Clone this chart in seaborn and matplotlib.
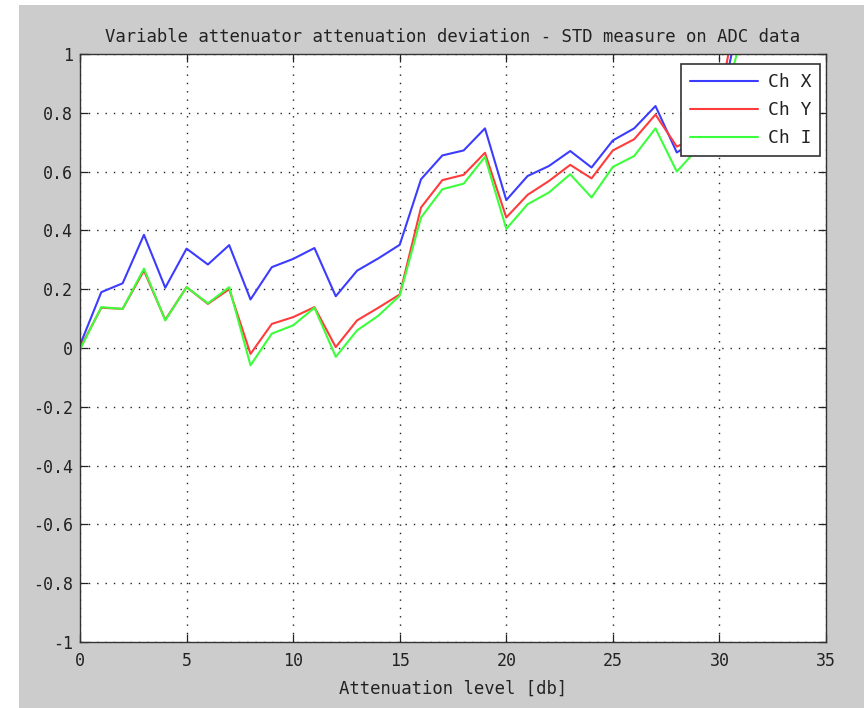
import matplotlib
import matplotlib.pyplot as plt
import pandas as pd
import seaborn as sns
from matplotlib.patches import Rectangle

matplotlib.use("Agg")

# attenuation steps and STD deviation per channel
atten_db = list(range(0, 32))
ch_x = [0.01, 0.19, 0.22, 0.385, 0.205, 0.338, 0.284, 0.35, 0.165, 0.275,
        0.303, 0.34, 0.176, 0.263, 0.305, 0.351, 0.574, 0.655, 0.672, 0.747,
        0.503, 0.585, 0.619, 0.670, 0.614, 0.706, 0.747, 0.823, 0.665, 0.71,
        0.80, 1.15]
ch_y = [0.0, 0.137, 0.133, 0.263, 0.096, 0.207, 0.15, 0.2, -0.02, 0.082,
        0.105, 0.139, 0.003, 0.094, 0.137, 0.182, 0.478, 0.571, 0.589, 0.664,
        0.444, 0.521, 0.568, 0.623, 0.577, 0.672, 0.71, 0.794, 0.685, 0.72,
        0.84, 1.22]
ch_i = [-0.005, 0.139, 0.133, 0.27, 0.094, 0.207, 0.152, 0.207, -0.059, 0.049,
        0.077, 0.137, -0.03, 0.06, 0.11, 0.178, 0.444, 0.54, 0.559, 0.65,
        0.405, 0.489, 0.529, 0.591, 0.512, 0.616, 0.653, 0.747, 0.60, 0.68,
        0.78, 1.05]

x_ticks = [0, 5, 10, 15, 20, 25, 30, 35]
y_ticks = [-1, -0.8, -0.6, -0.4, -0.2, 0, 0.2, 0.4, 0.6, 0.8, 1]
y_tick_labels = ["-1", "-0.8", "-0.6", "-0.4", "-0.2", "0",
                 "0.2", "0.4", "0.6", "0.8", "1"]

df = pd.DataFrame({"atten": atten_db, "Ch X": ch_x, "Ch Y": ch_y, "Ch I": ch_i})
long_df = df.melt(id_vars="atten", var_name="channel", value_name="std")

sns.set_style("ticks")
plt.rcParams["font.family"] = ["DejaVu Sans Mono"]

fig = plt.figure(figsize=(8.64, 7.08), dpi=100, facecolor="white")
# gray figure panel (screenshot has a thin white strip left and top)
fig.add_artist(Rectangle((19 / 864, 0), 1 - 19 / 864, 1 - 5 / 708,
                         transform=fig.transFigure, facecolor="#cccccc",
                         edgecolor="none", zorder=0))

ax = fig.add_axes([80 / 864, 1 - 642 / 708, (826 - 80) / 864, (642 - 54) / 708])
ax.set_facecolor("white")

palette = {"Ch X": "#3c3cff", "Ch Y": "#ff3c3c", "Ch I": "#3cff3c"}
sns.lineplot(data=long_df, x="atten", y="std", hue="channel",
             hue_order=["Ch X", "Ch Y", "Ch I"], palette=palette,
             linewidth=1.5, ax=ax)

ax.set_xlim(0, 35)
ax.set_ylim(-1, 1)
ax.set_xticks(x_ticks)
ax.set_yticks(y_ticks)
ax.set_yticklabels(y_tick_labels)
ax.tick_params(direction="in", length=6, width=0.9, top=True, right=True,
               labelsize=12, colors="#222222")
ax.tick_params(axis="x", pad=7)
ax.tick_params(axis="y", pad=5)
ax.grid(True, linestyle=(0, (1, 5)), color="#222222", linewidth=1.0)
for sp in ax.spines.values():
    sp.set_visible(True)
    sp.set_color("#333333")
    sp.set_linewidth(1.0)

ax.set_title("Variable attenuator attenuation deviation - STD measure on ADC data",
             fontsize=12.4, color="#222222", pad=9)
ax.set_xlabel("Attenuation level [db]", fontsize=12.4, color="#222222", labelpad=7)
ax.set_ylabel("")

leg = ax.legend(loc="upper right", bbox_to_anchor=(0.992, 0.983), fontsize=13,
                frameon=True, fancybox=False, framealpha=1, edgecolor="#333333",
                handlelength=3.8, borderpad=0.5, labelspacing=0.55,
                handletextpad=0.5, borderaxespad=0)
leg.get_frame().set_linewidth(1.2)
for t in leg.get_texts():
    t.set_color("#222222")

fig.savefig("out.png", dpi=100, facecolor=fig.get_facecolor())
plt.close(fig)
